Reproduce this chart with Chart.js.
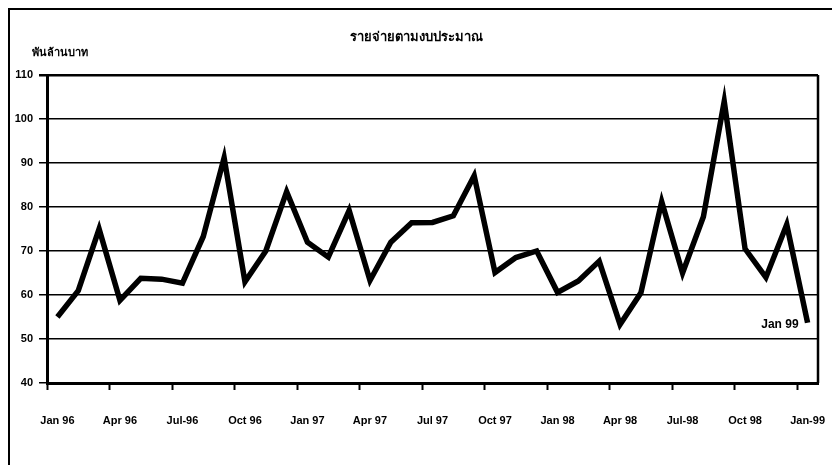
<!DOCTYPE html>
<html>
<head>
<meta charset="utf-8">
<script src="https://cdn.jsdelivr.net/npm/chart.js@4/dist/chart.umd.min.js"></script>
<style>
  html, body { margin: 0; padding: 0; background: #fff; }
  #wrap { width: 832px; height: 465px; position: relative; }
</style>
</head>
<body>
<div id="wrap"><canvas id="budgetChart"></canvas></div>
<script>
// ── Data ──
const months = [
  'Jan 96','Feb 96','Mar 96','Apr 96','May 96','Jun 96','Jul 96','Aug 96','Sep 96','Oct 96','Nov 96','Dec 96',
  'Jan 97','Feb 97','Mar 97','Apr 97','May 97','Jun 97','Jul 97','Aug 97','Sep 97','Oct 97','Nov 97','Dec 97',
  'Jan 98','Feb 98','Mar 98','Apr 98','May 98','Jun 98','Jul 98','Aug 98','Sep 98','Oct 98','Nov 98','Dec 98',
  'Jan 99'
];
const tickLabels = ['Jan 96','Apr 96','Jul-96','Oct 96','Jan 97','Apr 97','Jul 97','Oct 97','Jan 98','Apr 98','Jul-98','Oct 98','Jan-99'];
const spending = [
  55, 61, 75, 58.8, 63.8, 63.6, 62.7, 73.3, 91.2, 63, 70, 83.5,
  72, 68.6, 79.2, 63.3, 72, 76.4, 76.5, 78, 87.1, 65.1, 68.5, 70,
  60.6, 63.2, 67.7, 53.3, 60.5, 81.2, 65, 77.8, 104, 70.5, 64, 76,
  53.7
];
const yTicks = [40, 50, 60, 70, 80, 90, 100, 110];

const titleText = 'รายจ่ายตามงบประมาณ';
const unitText = 'พันล้านบาท';
const lastLabel = 'Jan 99';

const FONT = "'Liberation Sans', Arial, sans-serif";

// ── Frame, title, right border, end label ──
const decorPlugin = {
  id: 'decor',
  beforeDraw(chart) {
    const c = chart.ctx;
    c.save();
    c.strokeStyle = '#000';
    c.lineWidth = 2;
    c.beginPath();
    c.moveTo(9, 465);
    c.lineTo(9, 9);
    c.lineTo(832, 9);
    c.stroke();
    c.restore();
  },
  afterDraw(chart) {
    const c = chart.ctx;
    const a = chart.chartArea;
    c.save();
    // right border of the plot
    c.strokeStyle = '#000';
    c.lineWidth = 2.5;
    c.beginPath();
    c.moveTo(a.right, a.top);
    c.lineTo(a.right, a.bottom);
    c.stroke();

    c.fillStyle = '#000';
    c.font = "bold 13px 'Noto Sans', " + FONT;
    c.textAlign = 'center';
    c.textBaseline = 'middle';
    c.fillText(titleText, 416, 37);

    c.font = "bold 11px 'Noto Sans', " + FONT;
    c.textAlign = 'left';
    c.fillText(unitText, 32, 53);

    // end label next to the last point
    const meta = chart.getDatasetMeta(0);
    const last = meta.data[meta.data.length - 1];
    c.font = 'bold 12px ' + FONT;
    c.textAlign = 'right';
    c.fillText(lastLabel, last.x - 9, last.y + 2);
    c.restore();
  }
};

new Chart(document.getElementById('budgetChart'), {
  type: 'line',
  data: {
    labels: months,
    datasets: [{
      data: spending,
      borderColor: '#000',
      borderWidth: 5.5,
      pointRadius: 0,
      tension: 0,
      fill: false
    }]
  },
  options: {
    responsive: true,
    maintainAspectRatio: false,
    animation: false,
    layout: { padding: { top: 75, right: 0, left: 0, bottom: 0 } },
    plugins: {
      legend: { display: false },
      title: { display: false },
      tooltip: { enabled: false }
    },
    scales: {
      x: {
        type: 'category',
        offset: true,
        grid: {
          offset: true,
          drawOnChartArea: false,
          drawTicks: true,
          tickLength: 7,
          tickWidth: 2,
          tickColor: ctx => (ctx.index % 3 === 0 ? '#000' : 'rgba(0,0,0,0)')
        },
        border: { color: '#000', width: 3 },
        ticks: {
          autoSkip: false,
          maxRotation: 0,
          minRotation: 0,
          padding: 24,
          color: '#000',
          font: { family: FONT, size: 11, weight: 'bold' },
          callback: (v, i) => (i % 3 === 0 ? tickLabels[i / 3] : '')
        },
        afterFit: s => {
          s.height = 82;
          s.paddingLeft = 0;
          s.paddingRight = 14;
        }
      },
      y: {
        min: 40,
        max: 110,
        afterBuildTicks: s => { s.ticks = yTicks.map(v => ({ value: v })); },
        grid: {
          color: '#000',
          lineWidth: ctx => (ctx.tick && ctx.tick.value === 110 ? 2.5 : 1.5),
          tickLength: 8,
          tickColor: '#000'
        },
        border: { color: '#000', width: 3 },
        ticks: {
          padding: 6,
          color: '#000',
          font: { family: FONT, size: 11, weight: 'bold' }
        },
        afterFit: s => { s.width = 47; }
      }
    }
  },
  plugins: [decorPlugin]
});
</script>
</body>
</html>
